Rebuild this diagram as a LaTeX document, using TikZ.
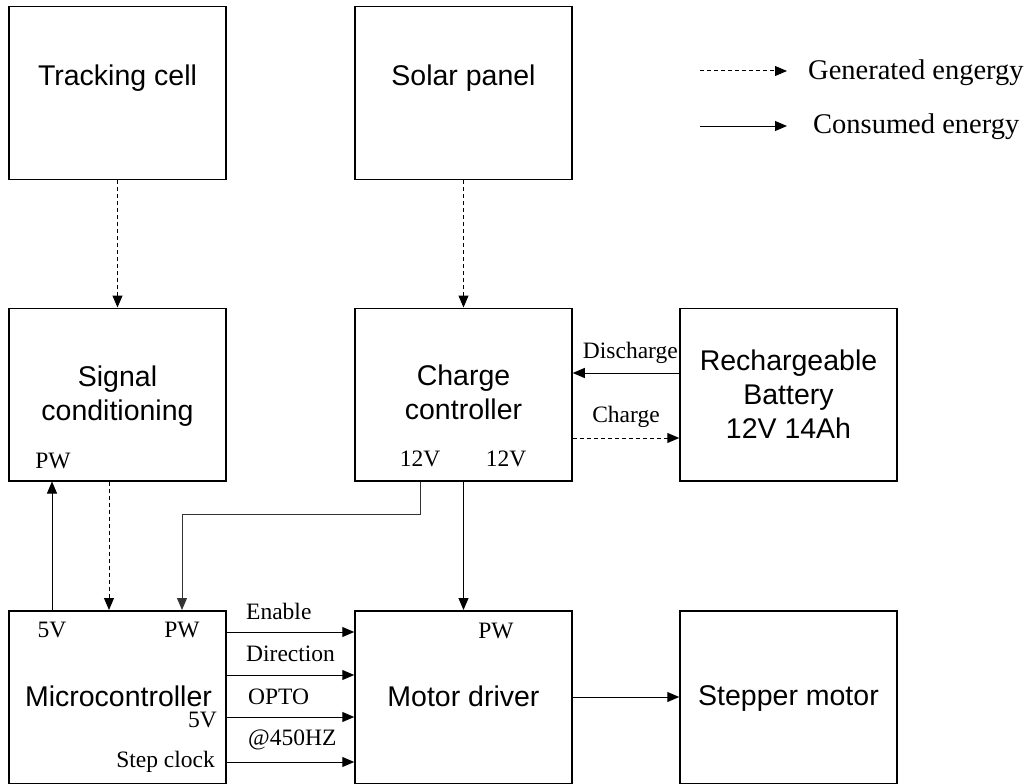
\documentclass[tikz,border=0pt]{standalone}
\usepackage{fontspec}
\setmainfont{Liberation Serif}
\newfontfamily\arialf{Liberation Sans}
\usetikzlibrary{arrows.meta}
\begin{document}
\begin{tikzpicture}[x=1pt,y=-1pt,
  box/.style={draw, line width=1.5pt, minimum width=217pt, minimum height=172.5pt, inner sep=0pt},
  ttl/.style={font=\arialf\fontsize{28.5}{34}\selectfont, align=center, inner sep=0pt},
  lbl/.style={font=\fontsize{23.5}{26}\selectfont, inner sep=0pt},
  lgd/.style={font=\fontsize{28.5}{32}\selectfont, inner sep=0pt},
  con/.style={line width=1pt, -{Triangle[length=12pt,width=10pt]}},
  gen/.style={con, dash pattern=on 4pt off 3pt},
]
\path[use as bounding box] (0,0) rectangle (1029,784);

% boxes
\node[box] (track)  at (117.5,93)   {};
\node[box] (solar)  at (463.5,93)   {};
\node[box] (signal) at (117.5,394.5) {};
\node[box] (charge) at (463.5,394.5) {};
\node[box] (batt)   at (788.5,394.5) {};
\node[box] (mc)     at (117.5,697)  {};
\node[box] (md)     at (463.5,697)  {};
\node[box] (step)   at (788.5,697)  {};

% titles
\node[ttl, anchor=base] (trackT) at (117.5,85) {Tracking cell};
\node[ttl, anchor=base] (solarT) at (463.5,85) {Solar panel};
\node[ttl] (signalT) at (117.5,396.6) {Signal\\conditioning};
\node[ttl] (chargeT) at (463.5,392.7) {Charge\\controller};
\node[ttl] (battT) at (788.5,393.7) {Rechargeable\\Battery\\12V 14Ah};
\node[ttl, anchor=base] (mcT) at (118.5,706) {Microcontroller};
\node[ttl, anchor=base] (mdT) at (463.5,706) {Motor driver};
\node[ttl, anchor=base] (stepT) at (788.5,705) {Stepper motor};

% small labels
\node[lbl] (sigPW) at (53,461) {PW};
\node[lbl] (cc12a) at (420,459) {12V};
\node[lbl] (cc12b) at (506,459) {12V};
\node[lbl] (mc5v) at (52,630) {5V};
\node[lbl] (mcPW) at (182,630) {PW};
\node[lbl] (mdPW) at (496,631) {PW};
\node[lbl, anchor=east] (mc5vb) at (217,720) {5V};
\node[lbl, anchor=east] (mcSC) at (215,762) {Step clock};
\node[lbl, anchor=west] (lEn) at (246,611) {Enable};
\node[lbl, anchor=west] (lDir) at (246,654) {Direction};
\node[lbl, anchor=west] (lOpto) at (248,697) {OPTO};
\node[lbl, anchor=west] (lHz) at (248,740) {@450HZ};
\node[lbl, anchor=east] (lDis) at (678,353) {Discharge};
\node[lbl] (lCh) at (626,417) {Charge};

% helper coordinates
\coordinate (dy) at (0,373);
\coordinate (cy) at (0,438);
\coordinate (dsx) at (109,0);
\coordinate (a1) at (0,632);
\coordinate (a2) at (0,675);
\coordinate (a3) at (0,717);
\coordinate (a4) at (0,762);

% connectors
\draw[gen] (track.south) -- (signal.north);
\draw[gen] (solar.south) -- (charge.north);
\draw[con] (mc5v |- mc.north) -- (mc5v |- signal.south);
\draw[gen] (dsx |- signal.south) -- (dsx |- mc.north);
\draw[con, line width=0.9pt, draw=black!80] (cc12a |- charge.south) -- ++(0,33) -| (mcPW |- mc.north);
\draw[con] (charge.south) -- (md.north);
\draw[con] (batt.west |- dy) -- (charge.east |- dy);
\draw[gen] (charge.east |- cy) -- (batt.west |- cy);
\draw[con] (mc.east |- a1) -- (md.west |- a1);
\draw[con] (mc.east |- a2) -- (md.west |- a2);
\draw[con] (mc.east |- a3) -- (md.west |- a3);
\draw[con] (mc.east |- a4) -- (md.west |- a4);
\draw[con] (md.east) -- (step.west);

% legend
\coordinate (g1) at (700,71);
\coordinate (g2) at (787,71);
\coordinate (c1) at (700,126);
\coordinate (c2) at (787,126);
\draw[gen] (g1) -- (g2);
\draw[con] (c1) -- (c2);
\node[lgd, anchor=base west] (legG) at (808,80) {Generated engergy};
\node[lgd, anchor=base west] (legC) at (813,133) {Consumed energy};
\end{tikzpicture}
\end{document}
